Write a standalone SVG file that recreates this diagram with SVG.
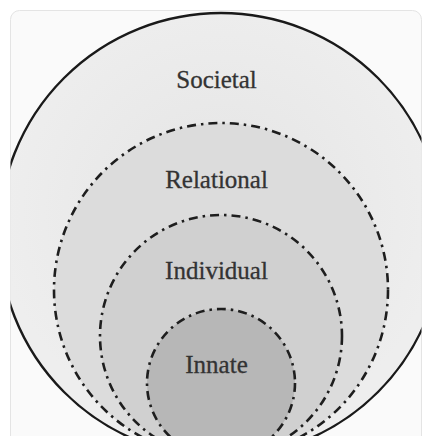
<svg xmlns="http://www.w3.org/2000/svg" width="423" height="436" viewBox="0 0 423 436">
  <style>
    .lbl { font-family: "Liberation Serif", "Times New Roman", serif; font-size: 25px; fill: #333333; text-anchor: middle; stroke: #333333; stroke-width: 0.3; }
    .dd { stroke: #1e1e1e; stroke-width: 2.6; stroke-dasharray: 9 5 2.5 5; stroke-linecap: butt; }
  </style>
  <defs>
    <clipPath id="card">
      <rect x="10.5" y="10.5" width="411" height="440" rx="9"/>
    </clipPath>
    <radialGradient id="g-outer" cx="0.5" cy="0.45" r="0.5">
      <stop offset="0" stop-color="#e4e4e4"/>
      <stop offset="1" stop-color="#eeeeee"/>
    </radialGradient>
  </defs>
  <rect x="0" y="0" width="423" height="436" fill="#ffffff"/>
  <rect x="10.5" y="10.5" width="411" height="440" rx="9" fill="#fafafa" stroke="#e4e4e4" stroke-width="1"/>
  <g clip-path="url(#card)">
    <g id="societal">
      <circle cx="221" cy="235" r="222" fill="url(#g-outer)" stroke="#1a1a1a" stroke-width="2.4"/>
      <text class="lbl" x="216.5" y="88">Societal</text>
    </g>
    <g id="relational">
      <circle cx="221" cy="290" r="167" fill="#dcdcdc" class="dd"/>
      <text class="lbl" x="216.5" y="188">Relational</text>
    </g>
    <g id="individual">
      <circle cx="221" cy="336" r="121" fill="#d0d0d0" class="dd"/>
      <text class="lbl" x="216.5" y="279">Individual</text>
    </g>
    <g id="innate">
      <circle cx="221" cy="383" r="74" fill="#b7b7b7" class="dd"/>
      <text class="lbl" x="216.5" y="373">Innate</text>
    </g>
  </g>
  <g id="connectors"/>
</svg>
